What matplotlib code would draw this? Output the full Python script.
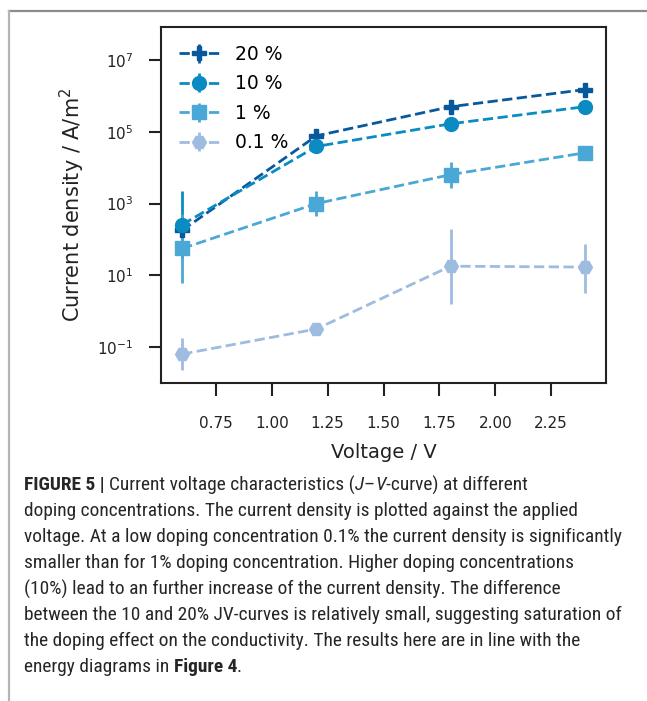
import matplotlib
matplotlib.use("Agg")
import matplotlib.pyplot as plt
from matplotlib.lines import Line2D
from matplotlib import font_manager
import numpy as np

# ---- data ----
voltage = [0.6, 1.2, 1.8, 2.4]
labels = ["20 %", "10 %", "1 %", "0.1 %"]
j_20 = [180, 7.7e4, 5.0e5, 1.5e6]
j_10 = [260, 3.9e4, 1.67e5, 5.0e5]
j_1 = [56, 1000, 6400, 2.6e4]
j_01 = [0.064, 0.32, 18, 17]
# error bars (lower, upper) in absolute values, 0 = none
err_20_lo = [0, 0, 0, 0]
err_20_hi = [0, 0, 0, 0]
err_10_lo = [30, 0, 0, 0]
err_10_hi = [2300, 0, 0, 0]
err_1_lo = [6.3, 440, 2800, 0]
err_1_hi = [500, 2300, 14000, 0]
err_01_lo = [0.023, 0.27, 1.6, 3.3]
err_01_hi = [0.18, 0.38, 200, 76]

colors = ["#08589e", "#0a8bc2", "#4ba7d5", "#9ebcdf"]
markers = ["P", "o", "s", "H"]

W, H = 647, 701
fig = plt.figure(figsize=(W / 100, H / 100), dpi=100)
ax = fig.add_axes([161 / W, 1 - 383 / H, (606 - 161) / W, (383 - 27) / H])

series = [
    (j_20, err_20_lo, err_20_hi),
    (j_10, err_10_lo, err_10_hi),
    (j_1, err_1_lo, err_1_hi),
    (j_01, err_01_lo, err_01_hi),
]
for (y, lo, hi), c, m, lab in zip(series, colors, markers, labels):
    y = np.array(y, float)
    lo = np.array(lo, float)
    hi = np.array(hi, float)
    lo_d = np.where(lo > 0, y - lo, 0)
    hi_d = np.where(hi > 0, hi - y, 0)
    ax.errorbar(voltage, y, yerr=[lo_d, hi_d], color=c, marker=m, markersize=10,
                linestyle="--", linewidth=2, elinewidth=2, capsize=0, label=lab)

ax.set_yscale("log")
ax.set_xlim(0.505, 2.495)
ax.set_ylim(10 ** -2.0, 10 ** 7.92)
ax.set_xticks([0.75, 1.0, 1.25, 1.5, 1.75, 2.0, 2.25])
ax.set_xticklabels(["0.75", "1.00", "1.25", "1.50", "1.75", "2.00", "2.25"])
ax.set_yticks([1e-1, 1e1, 1e3, 1e5, 1e7])
ax.set_yticklabels([r"$10^{-1}$", r"$10^{1}$", r"$10^{3}$", r"$10^{5}$", r"$10^{7}$"])
ax.minorticks_off()
ax.tick_params(axis="x", labelsize=11, length=9.5, width=1.5, pad=14, color="#222222",
               labelcolor="#222222")
ax.tick_params(axis="y", labelsize=11, length=9, width=1.5, pad=11, color="#222222",
               labelcolor="#222222")
for s in ax.spines.values():
    s.set_linewidth(1.5)
    s.set_color("#222222")
ax.set_xlabel("Voltage / V", fontsize=14, labelpad=9, color="#222222")
ax.set_ylabel(r"Current density / A/m$^2$", fontsize=15, labelpad=7, color="#222222")
leg = ax.legend(loc="upper left", frameon=False, fontsize=13.5, handlelength=2.2,
                borderaxespad=0.55, labelspacing=0.56, handletextpad=0.8)

# ---- frame lines ----
fig.add_artist(Line2D([9 / W, 1.0], [1 - 11 / H, 1 - 11 / H], color="#8c8c8c", lw=1.6,
                      transform=fig.transFigure))
fig.add_artist(Line2D([9 / W, 9 / W], [1 - 11 / H, 0.0], color="#b5b5b5", lw=1.6,
                      transform=fig.transFigure))

# ---- caption ----
available = {f.name for f in font_manager.fontManager.ttflist}
cap_font = "Liberation Sans"
for cand in ["Liberation Sans Narrow", "Roboto Condensed", "Open Sans Condensed",
             "Noto Sans Condensed", "DejaVu Sans Condensed", "Liberation Sans"]:
    if cand in available:
        cap_font = cand
        break
family = [cap_font, "Liberation Sans", "DejaVu Sans"]
norm_w = "normal"

lines = [
    [("FIGURE 5 | ", "bold", "normal"), ("Current voltage characteristics (", norm_w, "normal"),
     ("J", norm_w, "italic"), ("–", norm_w, "normal"), ("V", norm_w, "italic"),
     ("-curve) at different", norm_w, "normal")],
    [("doping concentrations. The current density is plotted against the applied", norm_w, "normal")],
    [("voltage. At a low doping concentration 0.1% the current density is significantly", norm_w, "normal")],
    [("smaller than for 1% doping concentration. Higher doping concentrations", norm_w, "normal")],
    [("(10%) lead to an further increase of the current density. The difference", norm_w, "normal")],
    [("between the 10 and 20% JV-curves is relatively small, suggesting saturation of", norm_w, "normal")],
    [("the doping effect on the conductivity. The results here are in line with the", norm_w, "normal")],
    [("energy diagrams in ", norm_w, "normal"), ("Figure 4", "bold", "normal"), (".", norm_w, "normal")],
]
fig.canvas.draw()
renderer = fig.canvas.get_renderer()

# fit the caption font so the widest line matches the reference width
probe = fig.text(0, 0, lines[2][0][0], fontsize=13, family=family, weight=norm_w)
pw = probe.get_window_extent(renderer).width
probe.remove()
fs = 13 * 595.0 / pw

x0 = 24
y0 = 485
dy = 26.0
for i, segs in enumerate(lines):
    x = x0
    y = y0 + i * dy
    for txt, wt, st in segs:
        t = fig.text(x / W, 1 - y / H, txt, fontsize=fs, family=family,
                     weight=wt, style=st, va="center", ha="left", color="#262626")
        bb = t.get_window_extent(renderer)
        x += bb.width

fig.savefig("out.png", dpi=100)
